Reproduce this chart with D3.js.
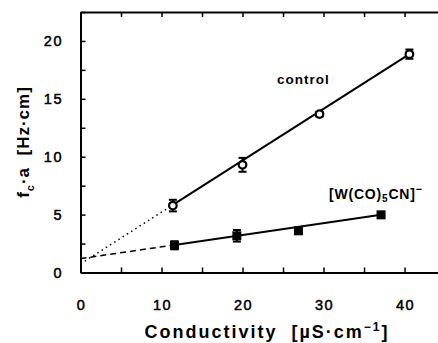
<!DOCTYPE html>
<html>
<head>
<meta charset="utf-8">
<script src="https://cdn.jsdelivr.net/npm/d3@7"></script>
<style>
  html, body { margin: 0; padding: 0; background: #fff; overflow: hidden; }
  svg { display: block; }
  text { font-family: "Liberation Sans", Arial, sans-serif; fill: #000; }
</style>
</head>
<body>
<div class="chart"></div>
<script>
var w = 438;
var h = 343;

// control (open circles)
var controlX = [11.4, 20.0, 29.5, 40.6];
var controlY = [5.78, 9.3, 13.68, 18.86];
var controlErr = [0.5, 0.6, 0.2, 0.4];
// [W(CO)5CN]- (filled squares)
var wX = [11.6, 19.3, 26.9, 37.1];
var wY = [2.35, 3.17, 3.6, 4.98];
var wErr = [0.35, 0.5, 0.2, 0.1];
// linear fits: [intercept, slope]
var controlFit = [0.75, 0.446];
var wFit = [1.2, 0.102];

var xTicks = [0, 10, 20, 30, 40];
var yTicks = [0, 5, 10, 15, 20];

var svg = d3.select(".chart")
            .append("svg")
            .attr("width", w)
            .attr("height", h);

var x = d3.scaleLinear().domain([0, 44.5]).range([80.5, 441]);
var y = d3.scaleLinear().domain([0, 22.5]).range([272.5, 12]);

// axes with inward ticks; frame is open on the right
var xAxis = d3.axisBottom(x).tickValues(d3.range(0, 45, 5)).tickSize(-5).tickSizeOuter(0).tickFormat("");
var xTop = d3.axisTop(x).tickValues(d3.range(0, 45, 5)).tickSize(-5).tickSizeOuter(0).tickFormat("");
var yAxis = d3.axisLeft(y).tickValues(d3.range(0, 22.6, 2.5)).tickSize(-5).tickSizeOuter(0).tickFormat("");

[svg.append("g").attr("transform", "translate(0," + y(0) + ")").call(xAxis),
 svg.append("g").attr("transform", "translate(0," + y(22.5) + ")").call(xTop),
 svg.append("g").attr("transform", "translate(" + x(0) + ",0)").call(yAxis)].forEach(function (g) {
  g.select(".domain").attr("stroke-width", 2);
  g.selectAll(".tick line").attr("stroke-width", 1.5);
});

svg.selectAll(".xlab")
   .data(xTicks)
   .enter()
   .append("text")
   .attr("x", d => x(d) + 1)
   .attr("y", 310)
   .attr("text-anchor", "middle")
   .style("font-size", "14.5px")
   .style("letter-spacing", "1.5px")
   .style("stroke", "#000")
   .style("stroke-width", "0.5px")
   .text(d => d);

svg.selectAll(".ylab")
   .data(yTicks)
   .enter()
   .append("text")
   .attr("x", 63)
   .attr("y", d => y(d) + 5.5)
   .attr("text-anchor", "end")
   .style("font-size", "14.5px")
   .style("letter-spacing", "1.5px")
   .style("stroke", "#000")
   .style("stroke-width", "0.5px")
   .text(d => d);

// axis titles
svg.append("text")
   .attr("x", 267)
   .attr("y", 338)
   .attr("text-anchor", "middle")
   .style("font-size", "18px")
   .style("font-weight", "bold")
   .style("letter-spacing", "2px")
   .html('Conductivity\u00a0\u00a0[µS·cm<tspan dy="-7" font-size="12px">−1</tspan><tspan dy="7">]</tspan>');

svg.append("text")
   .attr("transform", "translate(29,142) rotate(-90)")
   .attr("text-anchor", "middle")
   .style("font-size", "17px")
   .style("font-weight", "bold")
   .style("letter-spacing", "1px")
   .html('f<tspan dy="5" font-size="11px">c</tspan><tspan dy="-5">·a\u00a0\u00a0[Hz·cm]</tspan>');

// fit lines
function fitLine(fit, x0, x1, dash) {
  svg.append("line")
     .attr("x1", x(x0)).attr("y1", y(fit[0] + fit[1] * x0))
     .attr("x2", x(x1)).attr("y2", y(fit[0] + fit[1] * x1))
     .attr("stroke", "#000")
     .attr("stroke-width", dash ? 1.5 : 2)
     .attr("stroke-dasharray", dash);
}
fitLine(controlFit, 0, controlX[0], "1.5,3.5");
fitLine(controlFit, controlX[0], controlX[3], null);
fitLine(wFit, 0, wX[0], "6,4");
fitLine(wFit, wX[0], wX[3], null);

// error bars
function errBars(xs, ys, es) {
  xs.forEach(function (d, i) {
    var g = svg.append("g").attr("stroke", "#000").attr("stroke-width", 2);
    g.append("line").attr("x1", x(d)).attr("x2", x(d)).attr("y1", y(ys[i] - es[i])).attr("y2", y(ys[i] + es[i]));
    [ys[i] - es[i], ys[i] + es[i]].forEach(function (v) {
      g.append("line").attr("x1", x(d) - 4).attr("x2", x(d) + 4).attr("y1", y(v)).attr("y2", y(v));
    });
  });
}
errBars(controlX, controlY, controlErr);
errBars(wX, wY, wErr);

svg.selectAll(".ctrl")
   .data(controlX)
   .enter()
   .append("circle")
   .attr("cx", d => x(d))
   .attr("cy", (d, i) => y(controlY[i]))
   .attr("r", 3.8)
   .attr("fill", "#fff")
   .attr("stroke", "#000")
   .attr("stroke-width", 2.2);

svg.selectAll(".wsq")
   .data(wX)
   .enter()
   .append("rect")
   .attr("x", d => x(d) - 4.5)
   .attr("y", (d, i) => y(wY[i]) - 4.5)
   .attr("width", 9)
   .attr("height", 9)
   .attr("fill", "#000");

// series labels
svg.append("text")
   .attr("x", 277)
   .attr("y", 84)
   .style("font-size", "13.5px")
   .style("font-weight", "bold")
   .style("letter-spacing", "1px")
   .text("control");

svg.append("text")
   .attr("x", 329)
   .attr("y", 199)
   .style("font-size", "14px")
   .style("font-weight", "bold")
   .style("letter-spacing", "0.8px")
   .html('[W(CO)<tspan dy="3" font-size="10px">5</tspan><tspan dy="-3">CN]</tspan><tspan dy="-6" font-size="11px">−</tspan>');
</script>
</body>
</html>
